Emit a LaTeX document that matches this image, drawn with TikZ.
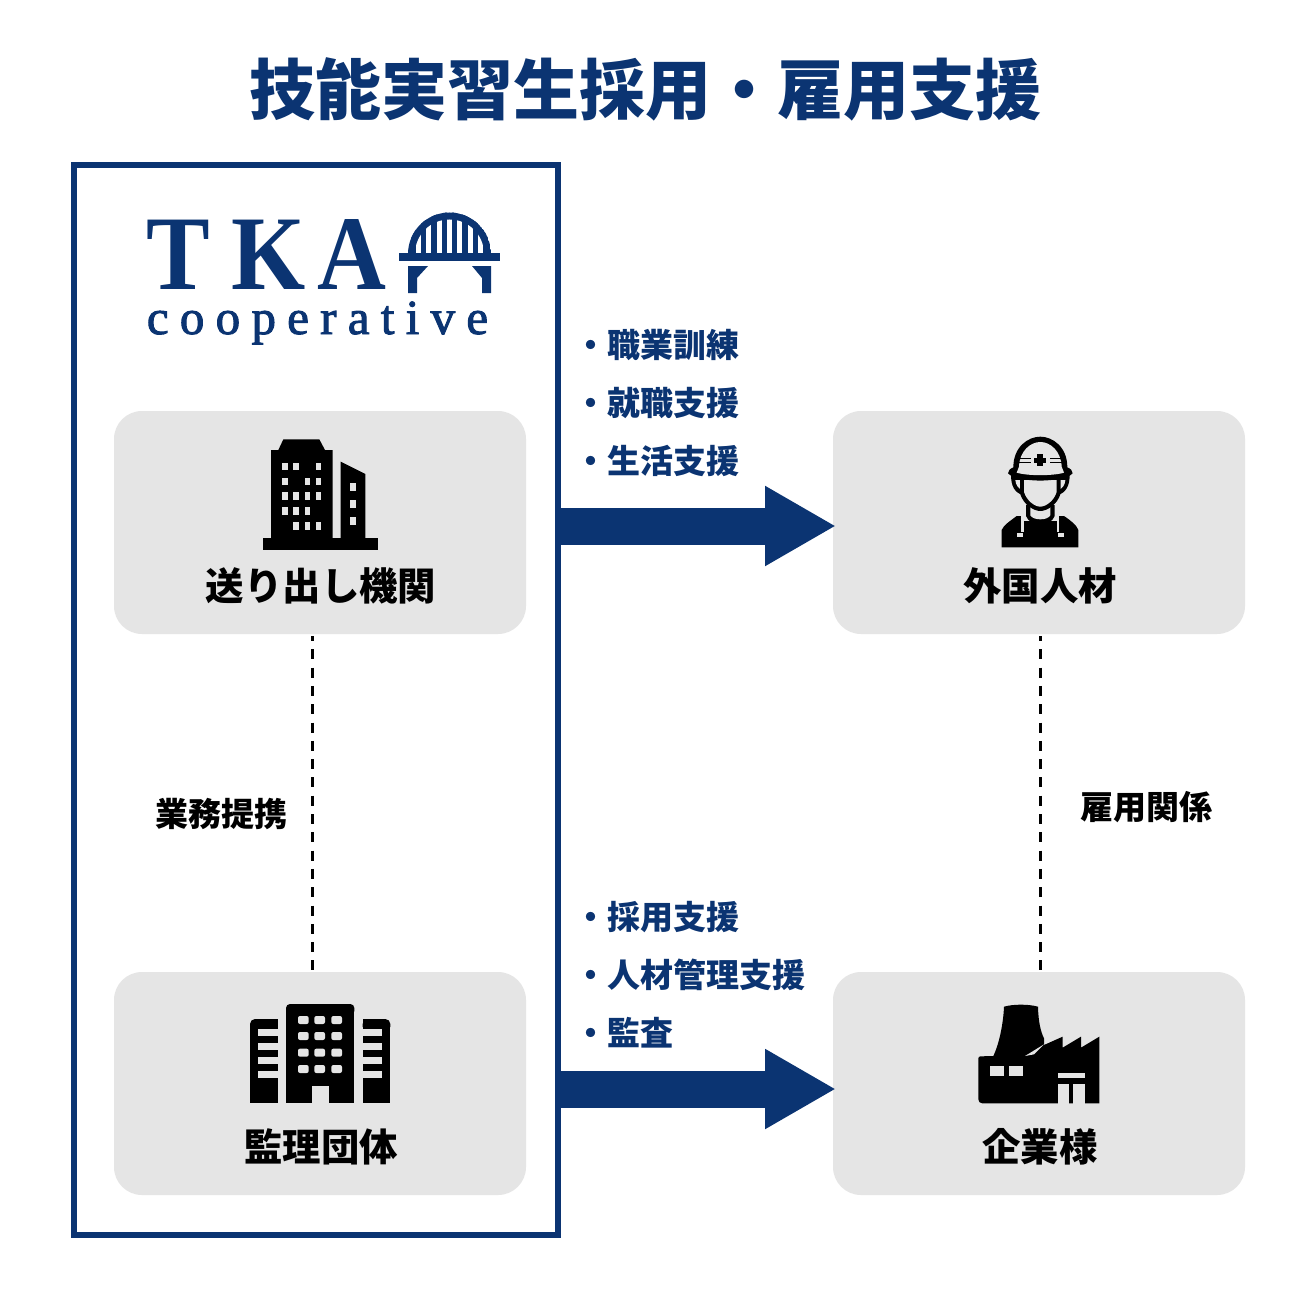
\documentclass[tikz,border=0pt]{standalone}
\usepackage{fontspec}
\setmainfont{Noto Sans CJK JP}
\newfontfamily\logoB{Liberation Serif}[BoldFont={Liberation Serif Bold}]
\newfontfamily\logoR{Liberation Serif}[LetterSpace=23,FakeBold=2]
\usetikzlibrary{arrows.meta}
\definecolor{navy}{HTML}{0B3472}
\definecolor{panel}{HTML}{E5E5E5}
\tikzset{
  panelbox/.style={fill=panel,rounded corners=14pt,minimum width=206pt,minimum height=111.5pt,inner sep=0pt},
  heading/.style={font=\fontsize{33}{40}\selectfont\bfseries,text=navy,inner sep=0pt},
  boxlabel/.style={font=\fontsize{19.2}{24}\selectfont\bfseries,text=black,inner sep=0pt},
  sidelabel/.style={font=\fontsize{16.5}{20}\selectfont\bfseries,text=black,inner sep=0pt},
  itemlabel/.style={font=\fontsize{16.5}{20}\selectfont\bfseries,text=navy,inner sep=0pt,anchor=west},
  bigarrow/.style={draw=navy,line width=18.5pt,-{Triangle[length=35.5pt,width=37.5pt]}},
  dashlink/.style={draw=black,line width=1.7pt,dash pattern=on 5pt off 4.15pt,dash phase=2.5pt},
  zoomed/.style={shift={#1},scale=1/3},
  logoletter/.style={inner sep=0pt,text=navy,font=\fontsize{53}{60}\logoB\bfseries,xscale=.9},
}
\begin{document}
\begin{tikzpicture}[x=0.5pt,y=-0.5pt]
\useasboundingbox (0,0) rectangle (1289,1289);
\fill[white] (0,0) rectangle (1289,1289);
\node[heading] (title) at (645,89) {技能実習生採用・雇用支援};
\node[draw=navy,line width=3pt,minimum width=242pt,minimum height=534.5pt,inner sep=0pt] (frame) at (315.5,700) {};
\node[panelbox] (send) at (320,522.5) {};
\node[panelbox] (worker) at (1039,522.5) {};
\node[panelbox] (super) at (320,1083.5) {};
\node[panelbox] (company) at (1039,1083.5) {};
\coordinate (d1s) at (312.7,636);
\coordinate (d1e) at (312.7,972);
\coordinate (d2s) at (1040.7,636);
\coordinate (d2e) at (1040.7,972);
\draw[dashlink] (d1s) -- (d1e);
\draw[dashlink] (d2s) -- (d2e);
\coordinate (a1s) at (558,526);
\coordinate (a1e) at (836,526);
\coordinate (a2s) at (558,1089);
\coordinate (a2e) at (836,1089);
\draw[bigarrow] (a1s) -- (a1e);
\draw[bigarrow] (a2s) -- (a2e);
\node[boxlabel] (l1) at (321,586) {送り出し機関};
\node[boxlabel] (l2) at (1040,586) {外国人材};
\node[boxlabel] (l3) at (321,1147) {監理団体};
\node[boxlabel] (l4) at (1040,1147) {企業様};
\node[sidelabel] (s1) at (221,814) {業務提携};
\node[sidelabel] (s2) at (1146,807) {雇用関係};
\node[itemlabel] (i1) at (573.6,345) {・職業訓練};
\node[itemlabel] (i2) at (573.6,403) {・就職支援};
\node[itemlabel] (i3) at (573.6,461) {・生活支援};
\node[itemlabel] (i4) at (573.6,917) {・採用支援};
\node[itemlabel] (i5) at (573.6,975) {・人材管理支援};
\node[itemlabel] (i6) at (573.6,1033) {・監査};
% logo
\node[logoletter] (lt) at (178,255) {T};
\node[logoletter] (lk) at (269,255) {K};
\node[logoletter] (la) at (352,255) {A};
\node[inner sep=0pt,text=navy,font=\fontsize{24.5}{30}\logoR] (lc) at (317.5,323) {cooperative};
% bridge
\begin{scope}[navy]
\begin{scope}
\clip (408,254) arc[x radius=41.5,y radius=41.5,start angle=180,end angle=360] -- cycle;
\fill (408,254) arc[x radius=41.5,y radius=41.5,start angle=180,end angle=360] -- cycle;
\fill[white] (415,254) arc[x radius=34.5,y radius=34.5,start angle=180,end angle=360] -- cycle;
\foreach \d in {-36,-26,-15.5,-5.2,5.2,15.5,26,36} \fill ({449.5+\d-2.6},205) rectangle ({449.5+\d+2.6},254);
\end{scope}
\fill (399,253) rectangle (500,261);
\fill (408,266) -- (428,266) -- (417,278) -- (417,293) -- (408,293) -- cycle;
\fill (491,266) -- (472,266) -- (482,278) -- (482,293) -- (491,293) -- cycle;
\end{scope}
% office building
\begin{scope}[zoomed={(250,430)}]
\fill[black] (40,325) rectangle (383,360);
\fill[black] (63,330) -- (63,60) -- (85,60) -- (100,28) -- (208,28) -- (225,60) -- (248,60) -- (248,330) -- cycle;
\fill[black] (272,330) -- (272,95) -- (346,132) -- (346,330) -- cycle;
\foreach \x/\y in {105/110,138/110,205/110,105/155,172/155,205/155,105/198,138/198,172/198,205/198,105/243,138/243,172/243,138/288,172/288,205/288}
  \fill[panel] (\x-8,\y-11) rectangle (\x+8,\y+11);
\foreach \y in {172,222,272} \fill[panel] (301,\y-12) rectangle (317,\y+12);
\end{scope}
% worker
\begin{scope}[zoomed={(980,430)}]
\fill[black] (65,352) -- (65,300) .. controls (70,285) and (95,270) .. (110,258) -- (252,258) .. controls (270,270) and (290,285) .. (295,300) -- (295,352) -- cycle;
\fill[panel] (130,240) -- (232,240) -- (232,300) -- (130,300) -- cycle;
\fill[black] (130,272) -- (232,272) -- (232,305) -- (130,305) -- cycle;
\fill[black] (138,225) -- (138,258) .. controls (150,292) and (212,292) .. (224,258) -- (224,225) -- cycle;
\fill[panel] (151,225) -- (151,256) .. controls (160,272) and (202,272) .. (211,256) -- (211,225) -- cycle;
\fill[panel] (124,250) rectangle (131,305);
\fill[panel] (231,250) rectangle (238,305);
\fill[panel] (110,308) rectangle (128,320);
\fill[panel] (233,308) rectangle (251,320);
\fill[black] (93,130) .. controls (92,170) and (105,188) .. (128,195) -- (234,195) .. controls (256,188) and (270,170) .. (269,130) -- cycle;
\fill[panel] (106,150) .. controls (107,165) and (115,175) .. (126,180) -- (126,150) -- cycle;
\fill[panel] (256,150) .. controls (255,165) and (247,175) .. (236,180) -- (236,150) -- cycle;
\fill[black] (120,140) -- (242,140) -- (242,190) .. controls (232,225) and (200,243) .. (181,243) .. controls (162,243) and (130,225) .. (120,190) -- cycle;
\fill[panel] (132,150) -- (230,150) -- (230,186) .. controls (222,212) and (198,230) .. (181,230) .. controls (164,230) and (140,212) .. (132,186) -- cycle;
\fill[black] (100,112) .. controls (100,50) and (145,20) .. (181,20) .. controls (217,20) and (262,50) .. (262,112) .. controls (272,116) and (278,122) .. (278,130) .. controls (270,140) and (250,143) .. (240,145) .. controls (210,154) and (152,154) .. (122,145) .. controls (112,143) and (92,140) .. (84,130) .. controls (84,122) and (90,116) .. (100,112) -- cycle;
\fill[panel] (117,110) .. controls (119,62) and (152,36) .. (181,36) .. controls (210,36) and (243,62) .. (245,110) -- (252,128) .. controls (220,138) and (142,138) .. (110,128) -- cycle;
\fill[black] (172,73) rectangle (190,108);
\fill[black] (163,83) rectangle (199,98);
\foreach \y in {83,95} {\fill[black] (116,\y) rectangle (152,\y+5); \fill[black] (210,\y) rectangle (246,\y+5);}
\end{scope}
% supervising body
\begin{scope}[zoomed={(240,995)}]
\fill[black] (138,40) rectangle (343,325);
\fill[black,rounded corners=2pt] (138,60) -- (138,27) -- (343,27) -- (343,60) -- cycle;
\fill[black] (30,90) rectangle (113,325);
\fill[black,rounded corners=2.5pt] (30,110) -- (30,72) -- (113,72) -- (113,110) -- cycle;
\fill[black] (113,72) rectangle (100,100);
\fill[black] (368,90) rectangle (451,325);
\fill[black,rounded corners=2.5pt] (368,110) -- (368,72) -- (451,72) -- (451,110) -- cycle;
\fill[black] (368,72) rectangle (380,100);
\fill[panel] (217,272) rectangle (266,326);
\foreach \x in {190,239,290} \foreach \y in {75,123,173,222} \fill[panel,rounded corners=1pt] (\x-16,\y-12) rectangle (\x+16,\y+12);
\foreach \y in {102,145,187,229} {\fill[panel] (55,\y) rectangle (114,\y+20); \fill[panel] (367,\y) rectangle (427,\y+20);}
\end{scope}
% factory
\begin{scope}[zoomed={(970,995)}]
\fill[black] (37,325) .. controls (30,325) and (25,320) .. (25,313) -- (25,190) .. controls (25,186) and (28,184) .. (32,184) -- (70,183) .. controls (90,140) and (100,80) .. (102,35) .. controls (130,27) and (175,27) .. (204,35) .. controls (205,80) and (212,110) .. (222,130) -- (222,150) -- (278,125) -- (278,158) -- (333,125) -- (333,158) -- (388,125) -- (388,325) -- cycle;
\fill[panel] (165,183) -- (222,148) -- (228,142) -- (192,178) -- cycle;
\fill[panel] (60,214) rectangle (103,242);
\fill[panel] (116,214) rectangle (158,242);
\fill[panel] (265,233) rectangle (345,250);
\fill[panel] (265,267) rectangle (297,326);
\fill[panel] (310,267) rectangle (345,326);
\end{scope}
\end{tikzpicture}
\end{document}
